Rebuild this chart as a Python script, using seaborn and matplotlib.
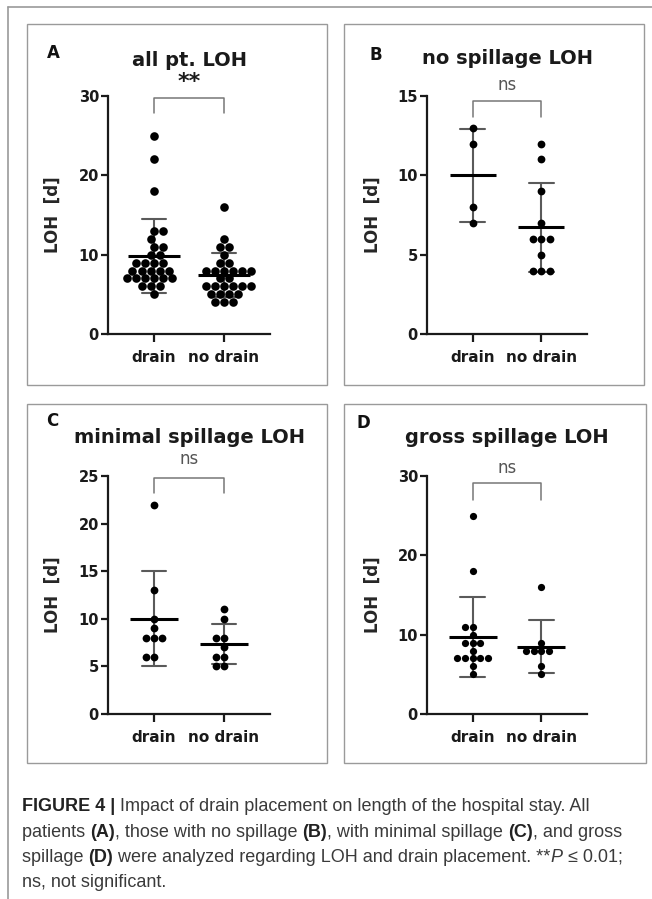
import matplotlib
matplotlib.use("Agg")
import matplotlib.pyplot as plt
from matplotlib.patches import Rectangle
from matplotlib.lines import Line2D
from matplotlib.transforms import IdentityTransform, blended_transform_factory
import pandas as pd
import seaborn as sns

W, H = 652, 899

groups = ["drain", "no drain"]

# LOH [d] per patient
no_spill_drain = [13, 12, 8, 7]
no_spill_nodrain = [12, 11, 9, 7, 6, 6, 6, 5, 4, 4, 4]
min_spill_drain = [22, 13, 10, 9, 8, 8, 8, 6, 6]
min_spill_nodrain = [11, 10, 8, 8, 7, 6, 6, 5, 5]
gross_spill_drain = [25, 18, 11, 11, 10, 9, 9, 9, 8, 7, 7, 7, 7, 7, 6, 5]
gross_spill_nodrain = [16, 9, 8, 8, 8, 8, 6, 5]

# panel A = all patients, i.e. the three spillage groups pooled
all_drain = no_spill_drain + min_spill_drain + gross_spill_drain
all_nodrain = no_spill_nodrain + min_spill_nodrain + gross_spill_nodrain

panel_letters = ["A", "B", "C", "D"]
panel_titles = ["all pt. LOH", "no spillage LOH", "minimal spillage LOH", "gross spillage LOH"]
significance = ["**", "ns", "ns", "ns"]
y_ticks = [[0, 10, 20, 30], [0, 5, 10, 15], [0, 5, 10, 15, 20, 25], [0, 10, 20, 30]]
panel_data = [
    (all_drain, all_nodrain),
    (no_spill_drain, no_spill_nodrain),
    (min_spill_drain, min_spill_nodrain),
    (gross_spill_drain, gross_spill_nodrain),
]

# layout in pixels (x0, ytop, x1, ybottom), origin top-left
axes_px = [(108, 96, 270, 334), (427, 96, 587, 334), (108, 476, 270, 714), (427, 476, 587, 714)]
boxes_px = [(27, 24, 327, 385), (344, 24, 644, 385), (27, 404, 327, 763), (344, 404, 646, 763)]
letter_px = [(53, 53), (376, 55), (52, 421), (363, 423)]
title_base = [66, 64, 443, 443]
sig_y = [1.059, 1.046, 1.071, 1.034]
bracket_y = [(0.99, 0.93), (0.98, 0.91), (0.99, 0.93), (0.97, 0.90)]
mean_width = [38, 33, 34, 34]
dot_size = [6.2, 5.6, 5.6, 5.2]

sns.set_theme(style="ticks")
plt.rcParams["font.family"] = ["DejaVu Sans"]

fig = plt.figure(figsize=(W / 100, H / 100), dpi=100)
fig.patch.set_facecolor("white")
ident = IdentityTransform()

# outer frame (top and left edges only)
fig.add_artist(Line2D([8, W], [H - 7, H - 7], transform=ident, color="#9a9a9a", lw=1.2))
fig.add_artist(Line2D([8, 8], [H - 7, 0], transform=ident, color="#9a9a9a", lw=1.2))

for i in range(4):
    x0, y0, x1, y1 = boxes_px[i]
    fig.add_artist(Rectangle((x0, H - y1), x1 - x0, y1 - y0, transform=ident,
                             fill=False, ec="#9a9a9a", lw=1.0))

    ax_x0, ax_y0, ax_x1, ax_y1 = axes_px[i]
    ax = fig.add_axes([ax_x0 / W, 1 - ax_y1 / H, (ax_x1 - ax_x0) / W, (ax_y1 - ax_y0) / H])
    ax.patch.set_alpha(0)

    d, nd = panel_data[i]
    df = pd.DataFrame({
        "group": [groups[0]] * len(d) + [groups[1]] * len(nd),
        "LOH": d + nd,
    })

    sns.pointplot(data=df, x="group", y="LOH", order=groups, estimator="mean",
                  errorbar="sd", capsize=0.35, color="black", marker="_",
                  markersize=mean_width[i], markeredgewidth=2.2, linestyle="none",
                  err_kws={"color": "#5a5a5a", "linewidth": 1.5, "zorder": 0.8},
                  zorder=3, ax=ax)
    sns.swarmplot(data=df, x="group", y="LOH", order=groups, color="black",
                  size=dot_size[i], zorder=2, ax=ax)

    ax.set_xlim(-0.66, 1.66)
    ax.set_ylim(y_ticks[i][0], y_ticks[i][-1])
    ax.set_yticks(y_ticks[i])
    ax.set_xlabel("")
    ax.set_ylabel("LOH  [d]", fontsize=12, fontweight="bold")
    ax.yaxis.set_label_coords(-0.285, 0.5)
    sns.despine(ax=ax)
    for side in ["left", "bottom"]:
        ax.spines[side].set_linewidth(1.6)
        ax.spines[side].set_color("#1a1a1a")
    ax.tick_params(axis="y", direction="out", length=5, width=1.6, pad=1.5,
                   labelsize=10.5, color="#1a1a1a")
    ax.tick_params(axis="x", direction="out", length=5.5, width=1.6, pad=6,
                   labelsize=11, color="#1a1a1a")
    for lab in ax.get_xticklabels() + ax.get_yticklabels():
        lab.set_fontweight("bold")
        lab.set_color("#1a1a1a")

    # significance bracket between the two groups
    tr = blended_transform_factory(ax.transData, ax.transAxes)
    top, leg = bracket_y[i]
    ax.plot([0, 0, 1, 1], [leg, top, top, leg], transform=tr, color="#777777",
            lw=1.1, clip_on=False)
    if significance[i] == "**":
        ax.text(0.5, sig_y[i], "**", transform=tr, ha="center", va="center",
                fontsize=16, fontweight="bold", color="#1a1a1a")
    else:
        ax.text(0.5, sig_y[i], significance[i], transform=tr, ha="center", va="center",
                fontsize=12, color="#555555")

    cx = (ax_x0 + ax_x1) / 2
    fig.text(cx, H - title_base[i], panel_titles[i], transform=ident, ha="center",
             va="baseline", fontsize=14, fontweight="bold", color="#1a1a1a")
    lx, ly = letter_px[i]
    fig.text(lx, H - ly, panel_letters[i], transform=ident, ha="center", va="center",
             fontsize=12, fontweight="bold", color="#111111")

# caption with mixed bold / italic runs
renderer = fig.canvas.get_renderer()
caption = [
    (811, [("FIGURE 4 |", "bold", "normal"),
           (" Impact of drain placement on length of the hospital stay. All", "normal", "normal")]),
    (837, [("patients ", "normal", "normal"), ("(A)", "bold", "normal"),
           (", those with no spillage ", "normal", "normal"), ("(B)", "bold", "normal"),
           (", with minimal spillage ", "normal", "normal"), ("(C)", "bold", "normal"),
           (", and gross", "normal", "normal")]),
    (862, [("spillage ", "normal", "normal"), ("(D)", "bold", "normal"),
           (" were analyzed regarding LOH and drain placement. **", "normal", "normal"),
           ("P", "normal", "italic"), (" \u2264 0.01;", "normal", "normal")]),
    (887, [("ns, not significant.", "normal", "normal")]),
]
for base, parts in caption:
    x = 22
    for s, w, st in parts:
        t = fig.text(x, H - base, s, transform=ident, ha="left", va="baseline",
                     fontsize=13, fontweight=w, fontstyle=st,
                     family=["Liberation Sans", "DejaVu Sans"],
                     color="#222222" if w == "bold" else "#3a3a3a")
        x += t.get_window_extent(renderer).width

fig.savefig("out.png", dpi=100)
